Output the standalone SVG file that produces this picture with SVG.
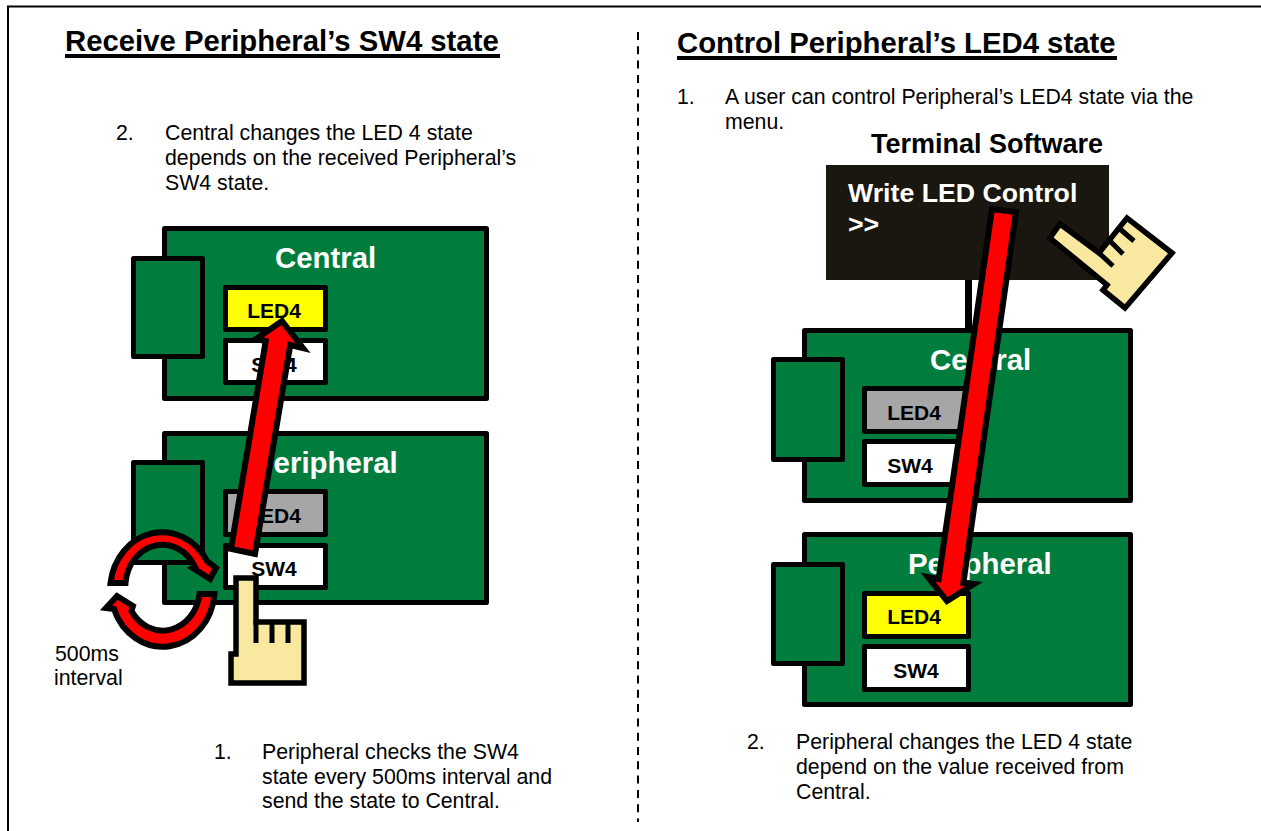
<svg xmlns="http://www.w3.org/2000/svg" width="1261" height="831" viewBox="0 0 1261 831">
<style>
text{font-family:"Liberation Sans",Arial,sans-serif;fill:#000}
.t{font-size:29.300px;font-weight:bold}
.b{font-size:21.300px}
.h{font-size:27px;font-weight:bold}
.w{font-size:29.400px;font-weight:bold;fill:#fff}
.m{font-size:26.700px;font-weight:bold;fill:#fff}
.l{font-size:21px;font-weight:bold;text-anchor:middle}
.bd{fill:#007d3c;stroke:#000;stroke-width:5;stroke-linejoin:round}
.led{stroke:#000;stroke-width:5;stroke-linejoin:round}
.ar{fill:#f00;stroke:#000;stroke-width:6;stroke-miterlimit:10}
.hd{fill:#f9e9a0;stroke:#000;stroke-width:5.500;stroke-linejoin:miter}
.ln{fill:none;stroke:#000;stroke-width:5}
</style>
<rect width="1261" height="831" fill="#fff"/>
<g id="frame"><path d="M8 831V6.500H1261" fill="none" stroke="#000" stroke-width="2"/></g>
<g id="divider"><line x1="638" y1="32" x2="638" y2="822" stroke="#000" stroke-width="2" stroke-dasharray="8 6.300"/></g>

<g id="left-title"><text class="t" x="65" y="51">Receive Peripheral’s SW4 state</text><rect x="65" y="54" width="435" height="4" fill="#000"/></g>
<g id="right-title"><text class="t" x="677" y="53">Control Peripheral’s LED4 state</text><rect x="677" y="56" width="440" height="4" fill="#000"/></g>

<g id="left-step2"><text class="b" x="116" y="140">2.</text><text class="b" x="165" y="140">Central changes the LED 4 state</text><text class="b" x="165" y="165">depends on the received Peripheral’s</text><text class="b" x="165" y="190">SW4 state.</text></g>
<g id="left-step1"><text class="b" x="214" y="759">1.</text><text class="b" x="262" y="759">Peripheral checks the SW4</text><text class="b" x="262" y="784">state every 500ms interval and</text><text class="b" x="262" y="808">send the state to Central.</text></g>
<g id="interval-label"><text class="b" x="55" y="661">500ms</text><text class="b" x="54" y="685">interval</text></g>
<g id="right-step1"><text class="b" x="677" y="104">1.</text><text class="b" x="725" y="104">A user can control Peripheral’s LED4 state via the</text><text class="b" x="725" y="129">menu.</text></g>
<g id="right-step2"><text class="b" x="747" y="749">2.</text><text class="b" x="796" y="749">Peripheral changes the LED 4 state</text><text class="b" x="796" y="774">depend on the value received from</text><text class="b" x="796" y="799">Central.</text></g>

<g id="left-central">
<rect class="bd" x="164.500" y="228.500" width="322" height="170"/>
<rect class="bd" x="133.500" y="258.500" width="69" height="98"/>
<text class="w" x="275" y="268">Central</text>
<rect class="led" x="225.500" y="287.500" width="100" height="42" fill="#ff0"/><text class="l" x="274" y="318">LED4</text>
<rect class="led" x="225.500" y="340.500" width="100" height="42" fill="#fff"/><text class="l" x="274" y="372">SW4</text>
</g>
<g id="left-peripheral">
<rect class="bd" x="164.500" y="433.500" width="322" height="169"/>
<rect class="bd" x="133.500" y="462.500" width="69" height="100"/>
<text class="w" x="254" y="473">Peripheral</text>
<rect class="led" x="225.500" y="491.500" width="100" height="43" fill="#a6a6a6"/><text class="l" x="274" y="523">LED4</text>
<rect class="led" x="225.500" y="545.500" width="100" height="42" fill="#fff"/><text class="l" x="274" y="576">SW4</text>
</g>

<g id="terminal">
<text class="h" x="871" y="153">Terminal Software</text>
<rect x="965" y="278" width="7" height="54" fill="#000"/>
<rect x="826" y="165" width="283" height="115" fill="#1a1710"/>
<text class="m" x="848" y="202">Write LED Control</text>
<text class="m" x="848" y="233">&gt;&gt;</text>
</g>
<g id="right-central">
<rect class="bd" x="804.500" y="330.500" width="326" height="170"/>
<rect class="bd" x="773.500" y="359.500" width="69" height="100"/>
<text class="w" x="930" y="370">Central</text>
<rect class="led" x="864.500" y="388.500" width="104" height="43" fill="#a6a6a6"/><text class="l" x="914" y="420">LED4</text>
<rect class="led" x="864.500" y="441.500" width="104" height="43" fill="#fff"/><text class="l" x="910" y="473">SW4</text>
</g>
<g id="right-peripheral">
<rect class="bd" x="804.500" y="534.500" width="326" height="170"/>
<rect class="bd" x="773.500" y="564.500" width="69" height="99"/>
<text class="w" x="908" y="574">Peripheral</text>
<rect class="led" x="864.500" y="593.500" width="104" height="43" fill="#ff0"/><text class="l" x="914" y="624">LED4</text>
<rect class="led" x="864.500" y="646.500" width="104" height="43" fill="#fff"/><text class="l" x="916" y="678">SW4</text>
</g>

<g id="connectors">
<polygon class="ar" points="231,549 265.700,341 256,339 282,321 303,348 290.300,345 255,554"/>
<polygon class="ar" points="1016,212 963.400,582.800 974,584 947,601 928,577 938.600,579.200 992,209"/>
<path class="ar" d="M110.500,583A52,58 0 0 1 207,561L216,568L210,579L193,568L195,567A37,42 0 0 0 125.500,583Z"/>
<path class="ar" d="M214.500,594L199.500,594A37,42 0 0 1 131.500,611L133,606L117,596L106,608L114,609A52,58 0 0 0 214.500,594Z"/>
</g>

<g id="left-hand">
<path class="hd" d="M236,578H256V622H304V683H231V654H236Z"/>
<path class="ln" d="M256,622V643M272,622V643M288,622V643"/>
</g>
<g id="right-hand">
<path class="hd" d="M1050,238L1060,224L1099,253L1127,218L1172,253L1125,308L1103,290L1107,285Z"/>
<path class="ln" d="M1099,253L1113,266M1109,240L1123,254M1120,229L1134,241"/>
</g>
</svg>
